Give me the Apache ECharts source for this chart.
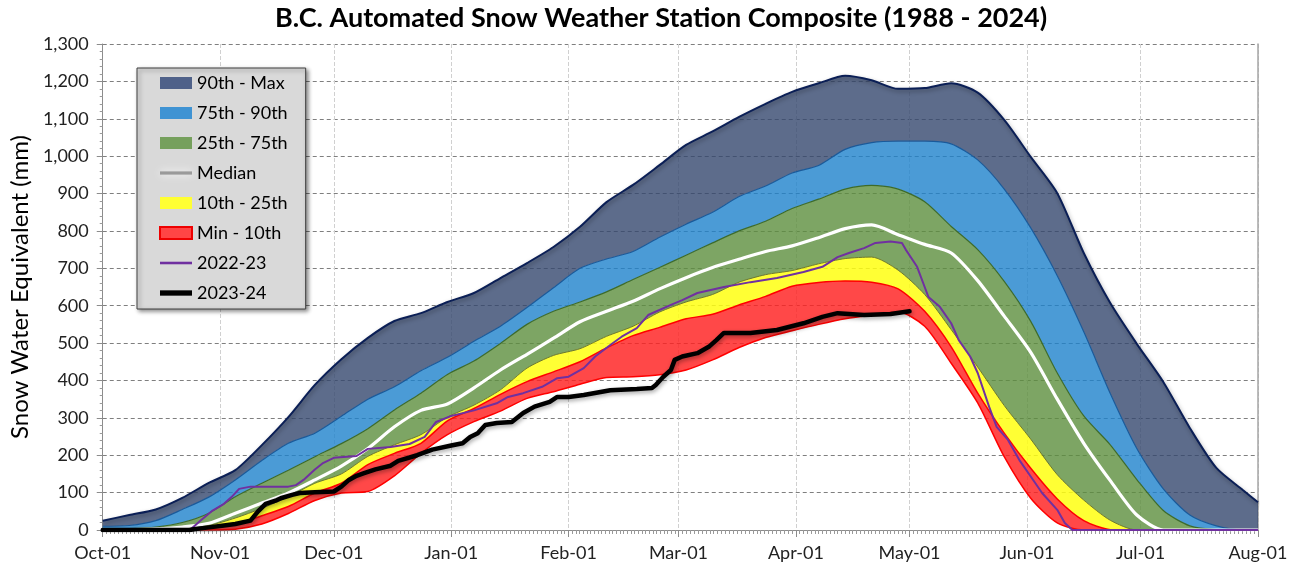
<!DOCTYPE html>
<html><head><meta charset="utf-8">
<script src="https://cdn.jsdelivr.net/npm/echarts/dist/echarts.min.js"></script>
<style>html,body{margin:0;padding:0;background:#fff}#c{width:1292px;height:573px}</style>
</head><body><div id="c"></div>
<script>
// Day offsets from Oct 1 (2023) at which the percentile curves were read
const dayOffsets = [0,7,14,21,28,35,42,49,56,63,70,77,84,91,98,105,112,119,126,133,140,147,154,161,168,175,182,189,196,203,210,217,224,231,238,245,252,259,266,273,280,287,294,301,305];
const maxV = [25,40,55,86,126,160,227,302,388,457,514,559,580,610,634,674,714,757,811,877,923,976,1030,1066,1105,1140,1172,1195,1215,1203,1180,1182,1195,1170,1097,998,901,741,607,498,396,273,166,107,74];
const p90V = [10,12,25,55,88,134,186,232,259,304,350,383,426,462,505,545,595,648,700,725,745,783,818,850,892,920,955,975,1018,1036,1040,1040,1033,990,912,808,680,530,365,218,110,40,11,0,0];
const p75V = [3,4,8,20,45,89,125,160,196,231,271,321,366,416,452,499,550,585,610,637,670,702,735,768,800,826,860,885,912,922,912,878,812,750,665,558,420,305,228,135,52,11,1,0,0];
const medianV = [1,1,3,8,18,45,72,99,134,171,218,276,320,337,380,428,470,513,557,585,612,645,675,702,724,745,760,782,806,816,790,764,741,667,572,475,350,232,132,40,0,0,0,0,0];
const p25V = [0,0,1,3,12,32,58,89,125,150,197,228,255,302,334,375,433,467,485,518,545,583,610,630,663,683,694,712,726,730,695,630,536,436,333,243,148,80,26,0,0,0,0,0,0];
const p10V = [0,0,0,1,4,15,38,63,99,125,175,205,232,292,325,363,397,423,450,487,520,542,565,577,602,625,652,662,666,663,645,585,490,366,259,165,83,25,1,0,0,0,0,0,0];
const minV = [0,0,0,0,0,2,16,44,79,99,103,145,205,255,290,318,352,370,390,408,410,415,428,455,488,515,533,550,565,575,583,545,446,340,196,85,19,0,0,0,0,0,0,0,0];

// 2022-23 season
const y2223Days = [0,23,26,29,32,34,36,39,49,51,53,56,58,61,67,70,76,81,85,88,92,98,104,107,111,116,120,123,127,130,134,137,141,144,150,153,157,164,171,178,185,190,194,197,201,204,208,211,212,215,217,218,221,224,226,229,231,234,236,239,242,245,248,252,254,256,305];
const y2223Vals = [0,0,27,52,70,88,110,116,116,120,134,162,178,193,198,217,222,230,249,289,305,320,339,356,366,383,406,410,433,464,495,517,540,575,602,615,634,650,663,674,690,704,730,741,754,768,772,768,750,704,650,623,597,553,508,464,420,330,276,241,187,143,99,54,19,0,0];
// 2023-24 season
const y2324Days = [0,23,24,28,32,35,39,41,43,46,47,50,52,56,61,63,65,67,69,72,76,78,83,87,92,95,97,99,101,104,108,111,114,118,120,123,127,134,141,145,146,148,150,151,153,157,160,162,164,171,178,185,190,194,201,208,213];
const y2324Vals = [0,0,2,7,12,16,25,50,70,80,85,94,99,101,103,116,134,145,152,162,172,185,200,215,226,232,249,259,281,286,289,313,330,343,356,356,361,374,377,380,388,410,428,455,464,473,490,508,527,527,535,553,570,580,575,578,585];

const monthNames = ['Jan','Feb','Mar','Apr','May','Jun','Jul','Aug','Sep','Oct','Nov','Dec'];
const yTicks = {min:0, max:1300, interval:100};

function t(d){ return new Date(2023, 9, 1 + d).getTime(); }
function pairs(days, vals){ return days.map((d,i)=>[t(d), vals[i]]); }
function diff(a,b){ return dayOffsets.map((d,i)=>[t(d), a[i]-b[i]]); }

const FONT = 'Lato';
const chart = echarts.init(document.getElementById('c'));
const bandCommon = {type:'line', stack:'bands', symbol:'none', smooth:0.25, z:2};
const shadow = {shadowColor:'rgba(0,0,0,0.35)', shadowBlur:4, shadowOffsetX:1, shadowOffsetY:2};

chart.setOption({
  backgroundColor:'#ffffff',
  animation:false,
  textStyle:{fontFamily:FONT},
  title:{text:'B.C. Automated Snow Weather Station Composite (1988 - 2024)', left:270, top:0,
    textStyle:{fontFamily:FONT, fontWeight:'bold', fontSize:27, color:'#000'}},
  grid:{left:101, right:34, top:44, bottom:43},
  legend:{
    orient:'vertical', left:137, top:68, selectedMode:false,
    backgroundColor:'#d9d9d9', borderColor:'#404040', borderWidth:1,
    shadowColor:'rgba(0,0,0,0.45)', shadowBlur:4, shadowOffsetX:2, shadowOffsetY:2,
    padding:[5,18,6,22], itemWidth:32, itemHeight:12, itemGap:10,
    textStyle:{fontFamily:FONT, fontSize:18, color:'#000', lineHeight:20},
    data:[
      {name:'90th - Max', icon:'rect', itemStyle:{color:'#4f6189', borderWidth:0}},
      {name:'75th - 90th', icon:'rect', itemStyle:{color:'#3f93d3', borderWidth:0}},
      {name:'25th - 75th', icon:'rect', itemStyle:{color:'#76a05d', borderWidth:0}},
      {name:'Median', icon:'path://M0,0h30v3h-30z', itemStyle:{color:'#9a9a9a', shadowColor:'#ffffff', shadowBlur:8, borderWidth:0}},
      {name:'10th - 25th', icon:'rect', itemStyle:{color:'#ffff33', borderWidth:0}},
      {name:'Min - 10th', icon:'rect', itemStyle:{color:'#ff4545', borderColor:'#ee0000', borderWidth:2}},
      {name:'2022-23', icon:'path://M0,0h30v2.4h-30z', itemStyle:{color:'#7030a0', borderWidth:0}},
      {name:'2023-24', icon:'path://M0,0h30v5h-30z', itemStyle:{color:'#000000', borderWidth:0}}
    ]
  },
  xAxis:[{
    type:'time', min:t(0), max:t(305), splitNumber:10,
    minInterval:28*86400000, maxInterval:31*86400000,
    axisLine:{lineStyle:{color:'#8c8c8c', width:1}},
    axisTick:{show:true, length:7, lineStyle:{color:'#8c8c8c'}},
    axisLabel:{fontFamily:FONT, fontSize:18, color:'#222', margin:14,
      formatter:function(v){ const d=new Date(v); return monthNames[d.getMonth()]+'-01'; }},
    splitLine:{show:true, lineStyle:{color:'#d0d0d0', type:'dashed', width:1}}
  },{
    type:'time', min:t(0), max:t(305), splitNumber:10,
    minInterval:28*86400000, maxInterval:31*86400000,
    axisLine:{show:false}, axisLabel:{show:false}, splitLine:{show:false},
    axisTick:{show:false, inside:true},
    minorTick:{show:true, splitNumber:30, length:4, lineStyle:{color:'#9a9a9a'}}
  }],
  yAxis:[{
    type:'value', min:yTicks.min, max:yTicks.max, interval:yTicks.interval,
    name:'Snow Water Equivalent (mm)', nameLocation:'middle', nameGap:66,
    nameTextStyle:{fontFamily:FONT, fontSize:24, color:'#000'},
    axisLine:{show:true, lineStyle:{color:'#8c8c8c'}},
    axisTick:{show:true, length:6, lineStyle:{color:'#8c8c8c'}},
    minorTick:{show:true, splitNumber:5, length:3, lineStyle:{color:'#9a9a9a'}},
    axisLabel:{fontFamily:FONT, fontSize:18, color:'#222', margin:14,
      formatter:function(v){ return v.toLocaleString('en-US'); }},
    splitLine:{show:true, lineStyle:{color:'#7f7f7f', type:[4,3], width:1}}
  },{
    type:'value', position:'right', min:yTicks.min, max:yTicks.max, interval:yTicks.interval,
    axisLine:{show:true, lineStyle:{color:'#a6a6a6', width:1.5}},
    axisTick:{show:false}, axisLabel:{show:false}, splitLine:{show:false}
  }],
  series:[
    Object.assign({}, bandCommon, {name:'Min', data:pairs(dayOffsets, minV),
      lineStyle:{color:'#ff0000', width:1.5}, itemStyle:{color:'#ff0000'}}),
    Object.assign({}, bandCommon, {name:'Min - 10th', data:diff(p10V, minV),
      lineStyle:{color:'#ff0000', width:1.5}, itemStyle:{color:'#ff4545'},
      areaStyle:{color:'#ff2020', opacity:0.82}}),
    Object.assign({}, bandCommon, {name:'10th - 25th', data:diff(p25V, p10V),
      lineStyle:{color:'#6f7a2a', width:1}, itemStyle:{color:'#ffff33'},
      areaStyle:{color:'#ffff10', opacity:0.85}}),
    Object.assign({}, bandCommon, {name:'25th - 75th', data:diff(p75V, p25V),
      lineStyle:{color:'#3d6b2a', width:1.2}, itemStyle:{color:'#76a05d'},
      areaStyle:{color:'#5d8e3d', opacity:0.8}}),
    Object.assign({}, bandCommon, {name:'75th - 90th', data:diff(p90V, p75V),
      lineStyle:{color:'#1a5a9a', width:1.2}, itemStyle:{color:'#3f93d3'},
      areaStyle:{color:'#1e82cc', opacity:0.8}}),
    Object.assign({}, bandCommon, {name:'90th - Max', data:diff(maxV, p90V),
      lineStyle:Object.assign({color:'#0b1f56', width:2}, shadow), itemStyle:{color:'#4f6189'},
      areaStyle:{color:'#34476e', opacity:0.8}}),
    {type:'line', name:'Median', data:pairs(dayOffsets, medianV), symbol:'none', smooth:0.25, z:4,
      lineStyle:{color:'#ffffff', width:3.2}, itemStyle:{color:'#ffffff'}},
    {type:'line', name:'2022-23', data:pairs(y2223Days, y2223Vals), symbol:'none', z:5,
      lineStyle:{color:'#7030a0', width:2}, itemStyle:{color:'#7030a0'}},
    {type:'line', name:'2023-24', data:pairs(y2324Days, y2324Vals), symbol:'none', z:6,
      lineStyle:Object.assign({color:'#000000', width:4.5, cap:'round', join:'round'}, shadow), itemStyle:{color:'#000'}}
  ]
});
</script></body></html>
